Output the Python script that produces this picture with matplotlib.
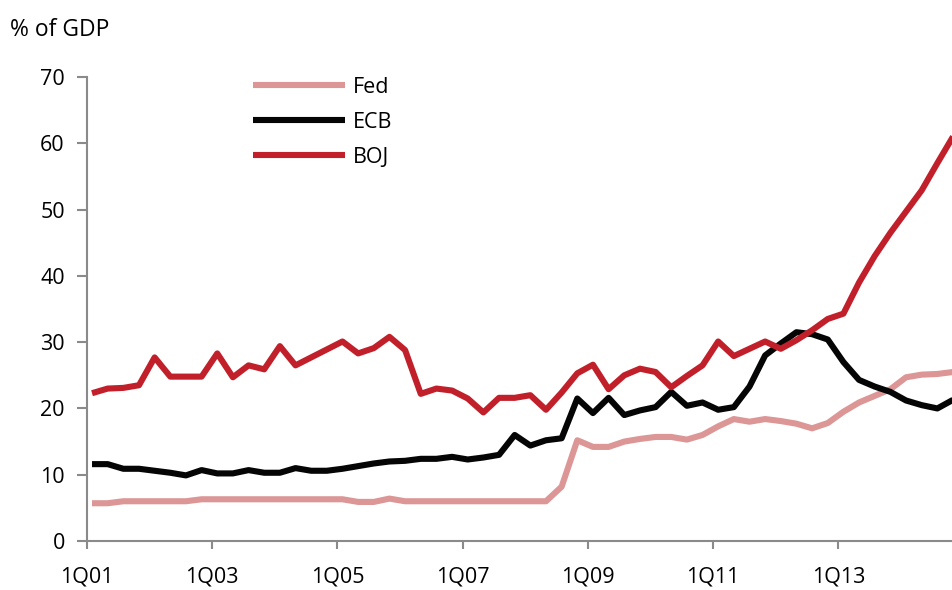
import matplotlib
matplotlib.use("Agg")
import matplotlib.pyplot as plt
import numpy as np

# quarterly central bank balance sheets, % of GDP, 1Q01 .. 4Q14
fed = [5.7, 5.7, 6.0, 6.0, 6.0, 6.0, 6.0, 6.3, 6.3, 6.3,
       6.3, 6.3, 6.3, 6.3, 6.3, 6.3, 6.3, 5.9, 5.9, 6.4,
       6.0, 6.0, 6.0, 6.0, 6.0, 6.0, 6.0, 6.0, 6.0, 6.0,
       8.2, 15.2, 14.2, 14.2, 15.0, 15.4, 15.7, 15.7, 15.3, 16.0,
       17.3, 18.4, 18.0, 18.4, 18.1, 17.7, 17.0, 17.8, 19.5, 20.9,
       21.9, 22.9, 24.7, 25.1, 25.2, 25.5]
ecb = [11.6, 11.6, 10.9, 10.9, 10.6, 10.3, 9.9, 10.7, 10.2, 10.2,
       10.7, 10.3, 10.3, 11.0, 10.6, 10.6, 10.9, 11.3, 11.7, 12.0,
       12.1, 12.4, 12.4, 12.7, 12.3, 12.6, 13.0, 16.0, 14.4, 15.2,
       15.5, 21.5, 19.3, 21.6, 19.0, 19.7, 20.2, 22.5, 20.4, 20.9,
       19.8, 20.2, 23.3, 28.0, 29.8, 31.5, 31.2, 30.4, 27.0, 24.3,
       23.3, 22.5, 21.2, 20.5, 20.0, 21.3]
boj = [22.3, 23.0, 23.1, 23.5, 27.7, 24.8, 24.8, 24.8, 28.3, 24.7,
       26.5, 25.9, 29.4, 26.5, 27.7, 28.9, 30.1, 28.3, 29.1, 30.8,
       28.8, 22.2, 23.0, 22.7, 21.5, 19.4, 21.6, 21.6, 22.0, 19.8,
       22.4, 25.3, 26.6, 22.9, 25.0, 26.0, 25.5, 23.2, 24.9, 26.5,
       30.1, 27.9, 29.0, 30.1, 29.0, 30.3, 31.8, 33.5, 34.3, 39.0,
       43.0, 46.5, 49.7, 52.9, 57.0, 61.0]
tick_labels = ["1Q01", "1Q03", "1Q05", "1Q07", "1Q09", "1Q11", "1Q13"]

plt.rcParams['font.family'] = ['Open Sans', 'DejaVu Sans']
fs = 15.5

x = np.arange(len(fed))

fig = plt.figure(figsize=(9.53, 5.90), dpi=100)
ax = fig.add_axes([0.0913, 0.083, 0.9087, 0.7865])

lw = 4.4
ax.plot(x, fed, color='#dc9696', lw=lw, label='Fed', solid_capstyle='butt')
ax.plot(x, ecb, color='#050505', lw=lw, label='ECB', solid_capstyle='butt')
ax.plot(x, boj, color='#c1202a', lw=lw, label='BOJ', solid_capstyle='butt')

ax.set_xlim(-0.32, 55.0)
ax.set_ylim(0, 70)
ax.set_yticks(range(0, 71, 10))
ax.set_xticks([-0.32 + 8 * k for k in range(len(tick_labels))])
ax.set_xticklabels(tick_labels)

for s in ['top', 'right']:
    ax.spines[s].set_visible(False)
for s in ['left', 'bottom']:
    ax.spines[s].set_color('#8a8a8a')
    ax.spines[s].set_linewidth(1.5)

ax.tick_params(axis='y', length=7, width=1.5, color='#8a8a8a', pad=9, labelsize=fs)
ax.tick_params(axis='x', length=6, width=1.5, color='#8a8a8a', pad=12, labelsize=fs)

fig.text(0.011, 0.950, "% of GDP", fontsize=16.5, va='center', ha='left')

ax.legend(loc='upper left', bbox_to_anchor=(0.245, 0.903), bbox_transform=fig.transFigure,
          frameon=False, fontsize=fs, handlelength=4.3, handletextpad=0.35,
          labelspacing=0.66)

plt.savefig("out.png", dpi=100)
